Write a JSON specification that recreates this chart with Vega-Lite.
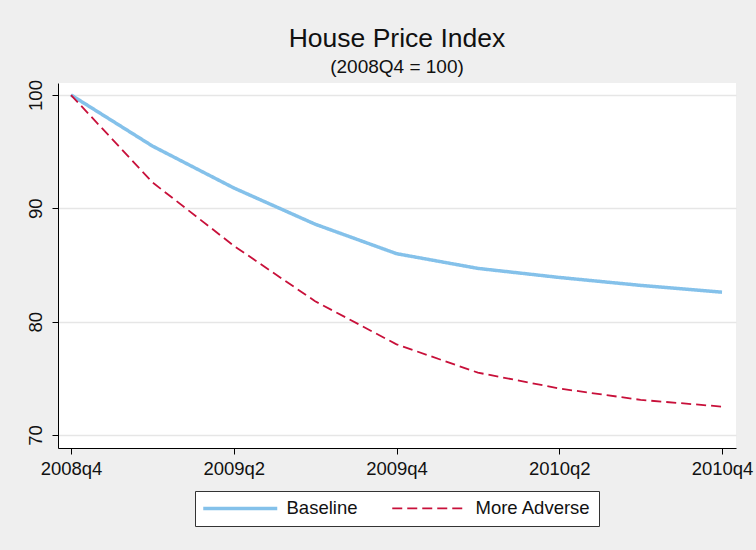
{
  "$schema": "https://vega.github.io/schema/vega-lite/v6.json",
  "width": 678,
  "height": 365,
  "autosize": {"type": "none"},
  "padding": {"left": 58, "top": 83, "right": 20, "bottom": 102},
  "background": "#efefef",
  "title": {
    "text": "House Price Index",
    "subtitle": "(2008Q4 = 100)",
    "font": "Liberation Sans",
    "fontSize": 26.5,
    "fontWeight": "normal",
    "color": "#111111",
    "subtitleFont": "Liberation Sans",
    "subtitleFontSize": 19,
    "subtitleColor": "#111111",
    "subtitlePadding": 5,
    "anchor": "middle",
    "offset": 3
  },
  "data": {
    "values": [
      {"q": 0, "series": "Baseline", "v": 100},
      {"q": 1, "series": "Baseline", "v": 95.5},
      {"q": 2, "series": "Baseline", "v": 91.8},
      {"q": 3, "series": "Baseline", "v": 88.6},
      {"q": 4, "series": "Baseline", "v": 86.0},
      {"q": 5, "series": "Baseline", "v": 84.7},
      {"q": 6, "series": "Baseline", "v": 83.9},
      {"q": 7, "series": "Baseline", "v": 83.2},
      {"q": 8, "series": "Baseline", "v": 82.6},
      {"q": 0, "series": "More Adverse", "v": 100},
      {"q": 1, "series": "More Adverse", "v": 92.3},
      {"q": 2, "series": "More Adverse", "v": 86.7},
      {"q": 3, "series": "More Adverse", "v": 81.8},
      {"q": 4, "series": "More Adverse", "v": 78.0},
      {"q": 5, "series": "More Adverse", "v": 75.5},
      {"q": 6, "series": "More Adverse", "v": 74.1},
      {"q": 7, "series": "More Adverse", "v": 73.1},
      {"q": 8, "series": "More Adverse", "v": 72.5}
    ]
  },
  "mark": {"type": "line", "strokeCap": "butt"},
  "encoding": {
    "x": {
      "field": "q",
      "type": "quantitative",
      "scale": {"domain": [-0.16, 8.172], "nice": false, "zero": false},
      "axis": {
        "title": null,
        "values": [0, 2, 4, 6, 8],
        "labelExpr": "['2008q4','2009q1','2009q2','2009q3','2009q4','2010q1','2010q2','2010q3','2010q4'][datum.value]",
        "grid": false,
        "domainColor": "#000000",
        "tickColor": "#000000",
        "tickSize": 6,
        "labelFont": "Liberation Sans",
        "labelFontSize": 18.5,
        "labelColor": "#111111",
        "labelPadding": 5,
        "labelOverlap": false
      }
    },
    "y": {
      "field": "v",
      "type": "quantitative",
      "scale": {"domain": [68.85, 101.06], "nice": false, "zero": false},
      "axis": {
        "title": null,
        "values": [70, 80, 90, 100],
        "grid": true,
        "gridColor": "#e6e6e6",
        "gridWidth": 1.5,
        "domainColor": "#000000",
        "tickColor": "#000000",
        "tickSize": 6,
        "labelAngle": -90,
        "labelAlign": "center",
        "labelBaseline": "bottom",
        "labelFont": "Liberation Sans",
        "labelFontSize": 18.5,
        "labelColor": "#111111",
        "labelPadding": 7
      }
    },
    "color": {
      "field": "series",
      "type": "nominal",
      "scale": {"domain": ["Baseline", "More Adverse"], "range": ["#84c1ea", "#c8103a"]},
      "legend": {
        "title": null,
        "orient": "none",
        "legendX": 137,
        "legendY": 408,
        "direction": "horizontal",
        "fillColor": "#ffffff",
        "strokeColor": "#333333",
        "padding": 8,
        "symbolType": "M-1.8,0H13",
        "symbolSize": 100,
        "labelFont": "Liberation Sans",
        "labelFontSize": 18.5,
        "labelColor": "#111111",
        "labelOffset": 65,
        "columnPadding": 30
      }
    },
    "strokeDash": {
      "field": "series",
      "type": "nominal",
      "scale": {"domain": ["Baseline", "More Adverse"], "range": [[1, 0], [10, 5]]}
    },
    "strokeWidth": {
      "field": "series",
      "type": "nominal",
      "scale": {"domain": ["Baseline", "More Adverse"], "range": [3.5, 1.8]}
    }
  },
  "config": {
    "view": {"stroke": null, "fill": "#ffffff"}
  }
}
